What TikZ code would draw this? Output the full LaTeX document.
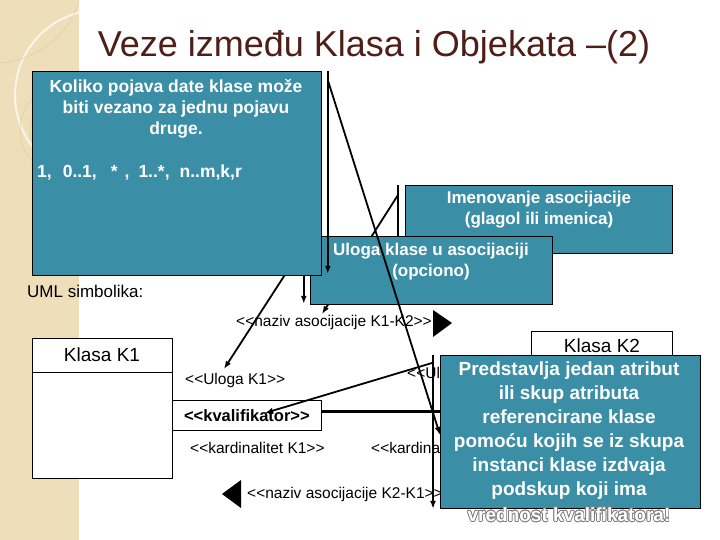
\documentclass[tikz,border=0pt]{standalone}
\usepackage{fontspec}
\setmainfont{Liberation Sans}
\usepackage[copies]{contour}
\contourlength{0.7pt}
\usepackage{xcolor}
\usetikzlibrary{arrows.meta,positioning,calc}
\definecolor{slideteal}{RGB}{58,142,165}
\definecolor{titlebrown}{RGB}{78,30,24}
\definecolor{stripbeige}{RGB}{238,222,185}
\pgfdeclarelayer{stripbg}
\pgfdeclarelayer{under}
\pgfdeclarelayer{top}
\pgfsetlayers{stripbg,under,main,top}
\newcommand{\lstereo}{<{}<}
\newcommand{\rstereo}{>{}>}

\begin{document}
\begin{tikzpicture}[
    x=1pt, y=-1pt,
    tealbox/.style={rectangle, draw=black, line width=0.8pt, fill=slideteal, anchor=north west, inner sep=0pt},
    calltext/.style={text=white, align=center, inner sep=0pt, font=\fontsize{17}{21}\bfseries\selectfont},
    umlbox/.style={rectangle, draw=black, line width=0.8pt, fill=white, anchor=north west, inner sep=0pt},
    classname/.style={inner sep=0pt, font=\fontsize{19}{22}\selectfont},
    stereo/.style={anchor=west, inner sep=0pt, font=\fontsize{15.5}{18}\selectfont},
    callout/.style={line width=1.8pt, -{Latex[length=8pt,width=6pt]}},
    assoc/.style={line width=3pt}
]
    \useasboundingbox (0,0) rectangle (720,540);

    % Slide background
    \begin{pgfonlayer}{stripbg}
        \fill[white] (0,0) rectangle (720,540);
        \fill[stripbeige] (0,0) rectangle (79,540);
        \begin{scope}
            \clip (0,0) rectangle (79,540);
            \draw[white!70!stripbeige, line width=2pt] (100,95) circle (85pt);
            \draw[stripbeige!75!brown, line width=0.4pt] (-5,-25) circle (88pt);
            \draw[stripbeige!75!brown, line width=0.4pt] (65,130) circle (45pt);
            \draw[stripbeige!75!brown, line width=0.4pt] (65,130) circle (35pt);
        \end{scope}
    \end{pgfonlayer}

    % Title
    \node[font=\fontsize{36}{40}\selectfont, text=titlebrown, inner sep=0pt] (title) at (374,47) {Veze između Klasa i Objekata –(2)};

    % Callout boxes
    \node[tealbox, minimum width=267pt, minimum height=68pt] (imen) at (405,185) {};
    \node[calltext] (imentext) at (539,210) {Imenovanje asocijacije\\(glagol ili imenica)};

    \node[tealbox, minimum width=242pt, minimum height=68pt] (uloga) at (310,236) {};
    \node[calltext] (ulogatext) at (431,262) {Uloga klase u asocijaciji\\(opciono)};

    \node[tealbox, minimum width=289pt, minimum height=204pt] (kol) at (32,71) {};
    \node[calltext, font=\fontsize{17.5}{21}\bfseries\selectfont] (koltext) at (176,109) {Koliko pojava date klase može\\biti vezano za jednu pojavu\\druge.};
    \node[calltext, anchor=west, font=\fontsize{17.5}{21}\bfseries\selectfont] (multi) at (37,173) {1,\hspace{11pt}0..1,\hspace{14pt}*\hspace{7pt},\hspace{9pt}1..*,\hspace{10pt}n..m,k,r};

    \node[anchor=west, inner sep=0pt, font=\fontsize{17}{20}\selectfont] (umlsim) at (27,291) {UML simbolika:};

    % Classes
    \node[umlbox, minimum width=140pt, minimum height=140pt] (k1) at (32,338) {};
    \draw[line width=0.8pt] ([yshift=-34pt]k1.north west) -- ([yshift=-34pt]k1.north east);
    \node[classname] (k1name) at (102,355) {Klasa K1};

    \node[umlbox, minimum width=149pt, minimum height=30pt, font=\fontsize{16.5}{19}\bfseries\selectfont] (kval) at (172,400) {\lstereo kvalifikator\rstereo};

    \node[umlbox, minimum width=141pt, minimum height=140pt] (k2) at (531,331) {};
    \node[classname] (k2name) at (602,346) {Klasa K2};

    % Stereotype labels
    \node[stereo] (ulogaK1) at (185,380) {\lstereo Uloga K1\rstereo};
    \node[stereo] (kardK1) at (190,448) {\lstereo kardinalitet K1\rstereo};
    \node[stereo] (nazivA) at (236,322) {\lstereo naziv asocijacije K1-K2\rstereo};
    \node[stereo] (nazivB) at (247,494) {\lstereo naziv asocijacije K2-K1\rstereo};
    \begin{scope}
        \clip (0,0) rectangle (440,540);
        \node[stereo] (ulogaK2) at (407,374) {\lstereo Uloga K2\rstereo};
        \node[stereo] (kardK2) at (371,448) {\lstereo kardinalitet K2\rstereo};
    \end{scope}
    \fill (433,310) -- (452,323) -- (433,337) -- cycle;
    \fill (241,480) -- (222,494) -- (241,508) -- cycle;

    % Qualifier callout
    \node[tealbox, minimum width=260pt, minimum height=153pt] (pred) at (440,355) {};
    \node[calltext, font=\fontsize{19}{24}\bfseries\selectfont] (predtext) at (569,431) {Predstavlja jedan atribut\\ili skup atributa\\referencirane klase\\pomoću kojih se iz skupa\\instanci klase izdvaja\\podskup koji ima};
    \node[calltext, font=\fontsize{19}{24}\bfseries\selectfont] (predlast) at (569,515) {\contour{gray}{vrednost kvalifikatora!}};

    % Connectors
    \coordinate (ulogaTip) at (224,369);
    \coordinate (nazivTip) at (322,314);
    \coordinate (kvalTip) at (265,413);
    \coordinate (assocL) at ([yshift=4pt]kval.east);
    \begin{pgfonlayer}{under}
        \draw[assoc] (assocL) -- (assocL -| k2.west);
        \draw[callout] ([xshift=-7pt,yshift=-10pt]imen.north west) -- (nazivTip);
        \draw[line width=1.8pt] ([xshift=-7pt]imen.north west) -- ([xshift=-7pt,yshift=-55pt]imen.north west);
        \draw[callout] (uloga.north west) -- (ulogaTip);
    \end{pgfonlayer}
    \begin{pgfonlayer}{top}
        \draw[callout] ([xshift=6pt,yshift=-9pt]kol.north east) -- ([yshift=-3pt]pred.west);
        \draw[callout] ([xshift=6pt]kol.north east) -- ([xshift=6pt,yshift=2pt]kol.south east);
        \draw[callout] ([xshift=-18pt]kol.south east) -- ([xshift=-18pt,yshift=-28pt]kol.south east);
        \draw[callout] ([xshift=-7pt]pred.north west) -- ([xshift=-7pt]pred.south west);
        \draw[callout] ([xshift=-8pt,yshift=-8pt]pred.north west) -- (kvalTip);
    \end{pgfonlayer}
\end{tikzpicture}
\end{document}
